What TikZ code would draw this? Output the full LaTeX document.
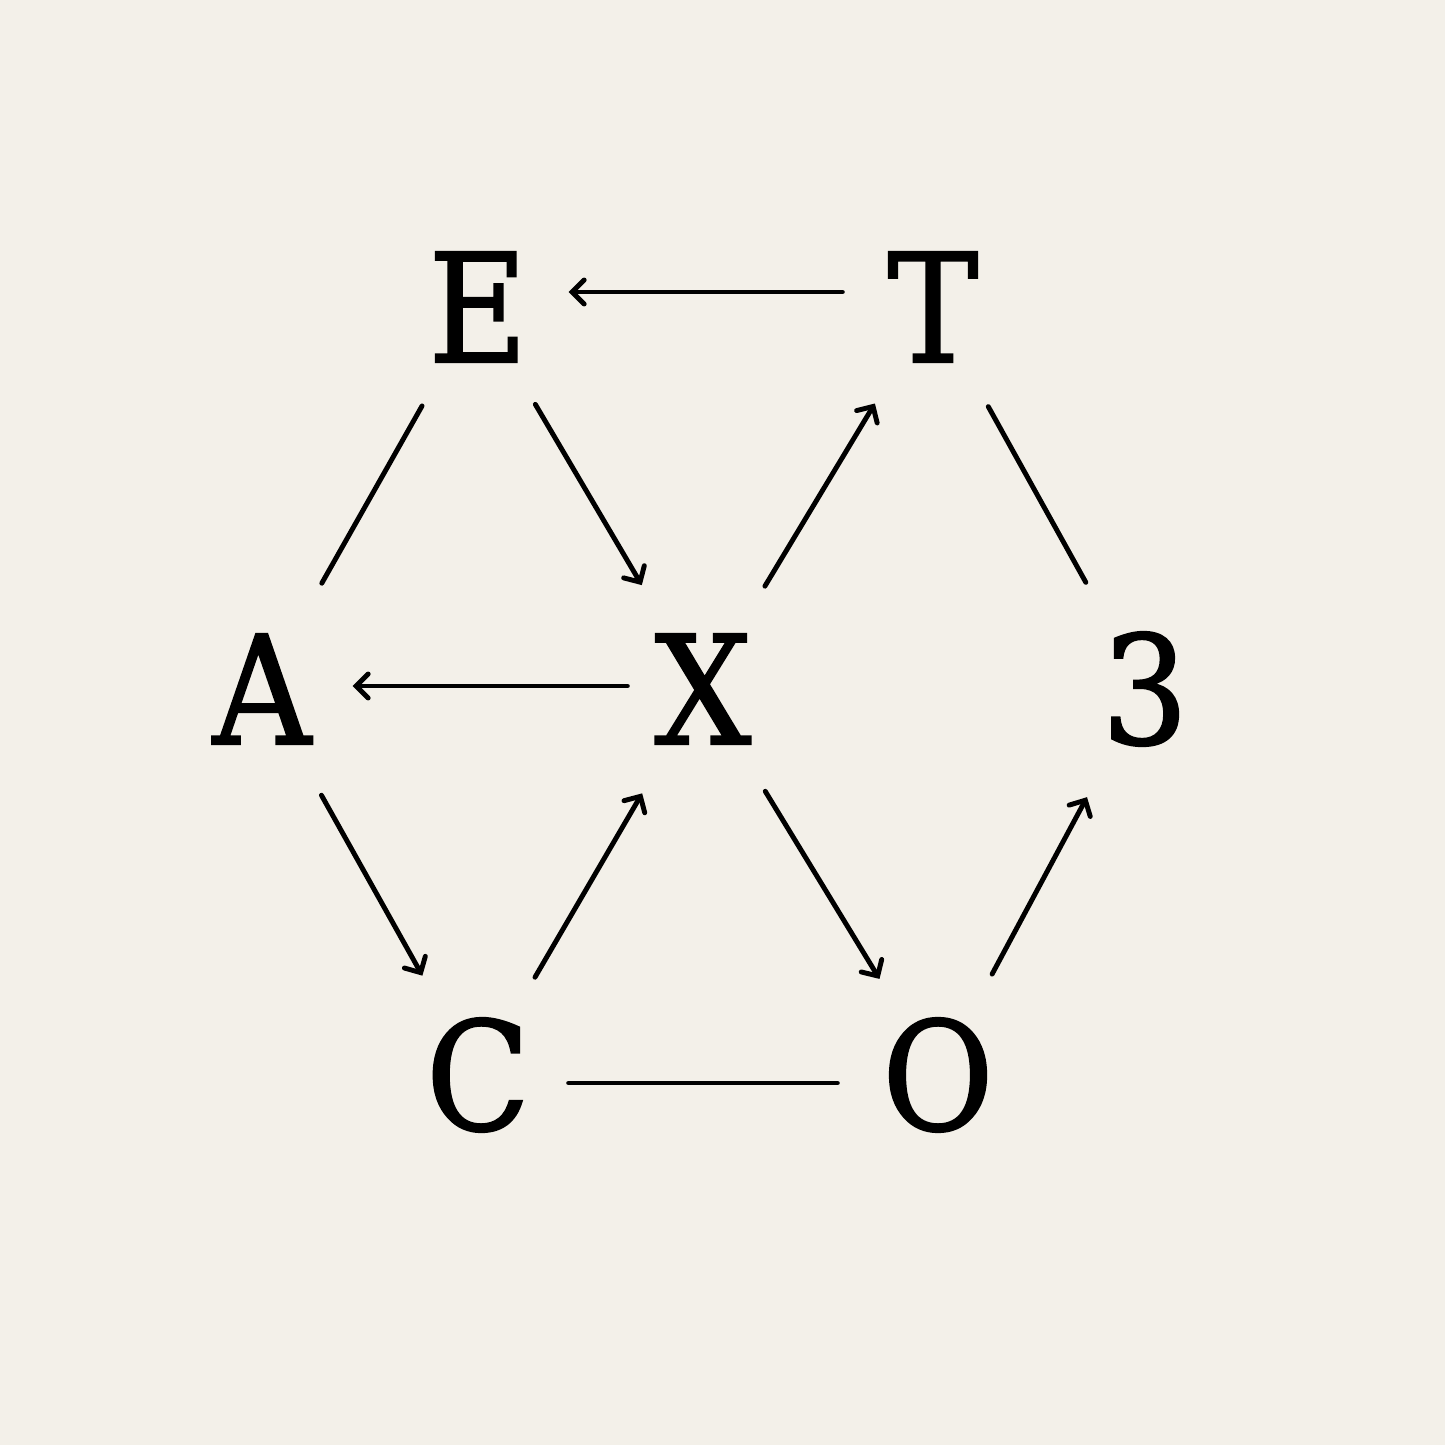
\documentclass[tikz,border=0pt]{standalone}
\usepackage{fontspec}
\setmainfont{DejaVu Serif}[FakeStretch=0.9,FakeBold=1.3]
\usetikzlibrary{arrows.meta,shapes.geometric}
\definecolor{papier}{HTML}{F3F0E9}
\begin{document}
\begin{tikzpicture}[
      lettre/.style={
        ellipse,
        inner sep=0pt,
        minimum width=1.8cm,
        minimum height=2.5cm,
        font=\fontsize{43}{50}\selectfont
      },
      milieu/.style={
        lettre,
        minimum height=2.8cm
      },
      lien/.style={
        line width=1.4pt,
        line cap=round
      },
      fleche/.style={
        lien,
        -{Straight Barb[length=1.2mm,width=2.4mm,line cap=round]}
      }
    ]
    \fill[papier] (0,0) rectangle (14.45,14.45);
    \node[lettre] (E) at (4.78,11.38) {E} ;
    \node[lettre] (T) at (9.33,11.38) {T} ;
    \node[milieu] (A) at (2.62,7.56) {A} ;
    \node[milieu] (X) at (7.03,7.56) {X} ;
    \node[milieu] (3) at (11.45,7.56) {3} ;
    \node[lettre] (C) at (4.78,3.70) {C} ;
    \node[lettre] (O) at (9.38,3.70) {O} ;

    \draw[fleche] ([yshift=0.15cm]T.west) -- ([yshift=0.15cm]E.east) ;
    \draw[lien] (E) -- (A) ;
    \draw[fleche] (E) -- (X) ;
    \draw[fleche] (X) -- (T) ;
    \draw[lien] (T) -- (3) ;
    \draw[fleche, shorten <=-0.15cm] ([yshift=0.03cm]X.west) -- ([yshift=0.03cm]A.east) ;
    \draw[fleche] (A) -- (C) ;
    \draw[fleche] (C) -- (X) ;
    \draw[fleche] (X) -- (O) ;
    \draw[fleche] (O) -- (3) ;
    \draw[lien, shorten >=0.1cm] ([yshift=-0.08cm]C.east) -- ([yshift=-0.08cm]O.west) ;
  \end{tikzpicture}
\end{document}
